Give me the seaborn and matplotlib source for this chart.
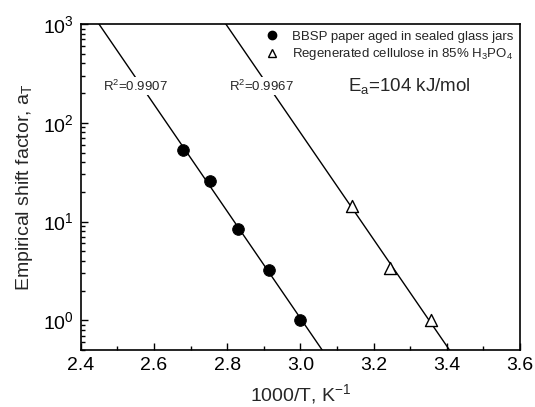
import numpy as np
import pandas as pd
import matplotlib
matplotlib.use("Agg")
import matplotlib.pyplot as plt
import seaborn as sns
from matplotlib.ticker import LogLocator, MultipleLocator, NullFormatter
from matplotlib.lines import Line2D

# data
bbsp_x = [2.678, 2.752, 2.830, 2.914, 3.000]
bbsp_y = [53.5, 25.7, 8.5, 3.22, 1.0]
regen_x = [3.142, 3.244, 3.356]
regen_y = [14.4, 3.4, 1.0]
r2_labels = ["R$^2$=0.9907", "R$^2$=0.9967"]
legend_labels = ["BBSP paper aged in sealed glass jars",
                 "Regenerated cellulose in 85% H$_3$PO$_4$"]
ea_label = "E$_a$=104 kJ/mol"

sns.set_style("ticks")
plt.rcParams['font.family'] = ['Liberation Sans', 'DejaVu Sans']
plt.rcParams['mathtext.fontset'] = 'custom'
plt.rcParams['mathtext.rm'] = 'Liberation Sans'
plt.rcParams['mathtext.it'] = 'Liberation Sans'

fig = plt.figure(figsize=(5.35, 4.07), dpi=100)
ax = fig.add_axes([0.151, 0.140, 0.821, 0.801])

# Arrhenius fit lines (log10 a_T vs 1000/T)
xs = np.linspace(2.4, 3.6, 300)
for x, y in [(bbsp_x, bbsp_y), (regen_x, regen_y)]:
    k = np.polyfit(x, np.log10(y), 1)
    fit = pd.DataFrame({"x": xs, "y": 10 ** np.polyval(k, xs)})
    sns.lineplot(data=fit, x="x", y="y", ax=ax, color="black", lw=1.0, zorder=2)

df1 = pd.DataFrame({"x": bbsp_x, "y": bbsp_y})
df2 = pd.DataFrame({"x": regen_x, "y": regen_y})
sns.scatterplot(data=df1, x="x", y="y", ax=ax, marker="o", s=70,
                color="black", edgecolor="black", zorder=3)
sns.scatterplot(data=df2, x="x", y="y", ax=ax, marker="^", s=75,
                facecolor="white", edgecolor="black", linewidth=1.0, zorder=3)

ax.set_yscale("log")
ax.set_xlim(2.4, 3.6)
ax.set_ylim(0.5, 1000)
ax.xaxis.set_major_locator(MultipleLocator(0.2))
ax.xaxis.set_minor_locator(MultipleLocator(0.1))
ax.yaxis.set_major_locator(LogLocator(base=10, numticks=10))
ax.yaxis.set_minor_locator(LogLocator(base=10, subs=np.arange(2, 10), numticks=20))
ax.yaxis.set_minor_formatter(NullFormatter())
ax.xaxis.set_major_formatter(plt.FuncFormatter(lambda v, p: f"{v:.1f}"))

ax.tick_params(which="both", direction="in", top=False, right=False,
               labelsize=14, width=1.0, colors="black")
ax.tick_params(which="major", length=5, pad=5)
ax.tick_params(which="minor", length=3)
for s in ax.spines.values():
    s.set_linewidth(1.2)
    s.set_color("black")

ax.set_xlabel("1000/T, K$^{-1}$", fontsize=14, labelpad=6)
ax.set_ylabel("Empirical shift factor, a$_\\mathregular{T}$", fontsize=14, labelpad=6)

box = dict(facecolor="white", edgecolor="none", pad=1)
ax.text(2.461, 234, r2_labels[0], fontsize=9.5, va="center", ha="left", bbox=box, zorder=4)
ax.text(2.805, 234, r2_labels[1], fontsize=9.5, va="center", ha="left", bbox=box, zorder=4)
ax.text(3.13, 234, ea_label, fontsize=13.5, va="center", ha="left")

handles = [Line2D([], [], ls="none", marker="o", color="black", ms=6),
           Line2D([], [], ls="none", marker="^", mfc="white", mec="black", ms=6)]
ax.legend(handles, legend_labels, loc="upper right", frameon=False, fontsize=9.5,
          handlelength=1.0, handletextpad=1.0, borderaxespad=0.1, labelspacing=0.25,
          bbox_to_anchor=(1.0, 1.0))

fig.savefig("out.png", dpi=100)
